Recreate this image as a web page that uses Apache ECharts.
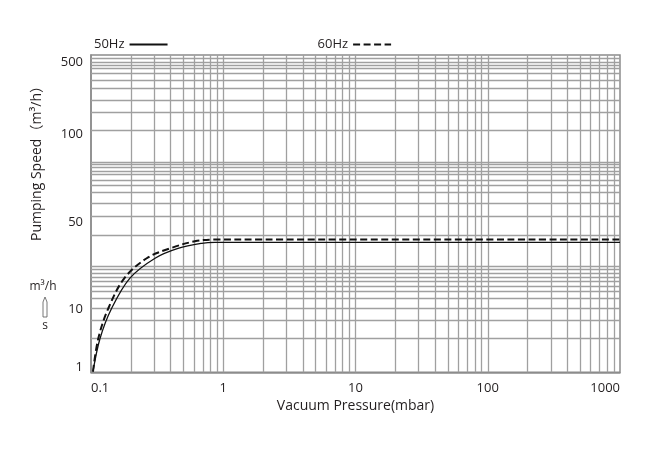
<!DOCTYPE html>
<html>
<head>
<meta charset="utf-8">
<title>Pumping Speed</title>
<script src="https://cdn.jsdelivr.net/npm/echarts@6/dist/echarts.min.js"></script>
<style>
  html, body { margin: 0; padding: 0; background: #fff; }
  #chart { width: 650px; height: 450px; }
</style>
</head>
<body>
<div id="chart"></div>
<script>
// x axis: vacuum pressure (mbar), log scale
const xTicks = [0.1, 1, 10, 100, 1000];
const xMultiples = [1, 2, 3, 4, 5, 6, 7, 8, 9];

// y axis of the reference is an irregular log paper of 3 "decades" (0..3);
// labels are printed at these positions
const yTickLabels = [1, 10, 50, 100, 500];
const yTickPos = [0.05, 0.598, 1.414, 2.253, 2.927];
// horizontal grid lines of the paper, same units
const yGridPos = [
    0.320, 0.492, 0.615, 0.698, 0.769, 0.813, 0.857, 0.904, 0.942, 0.974, 0.999,
    1.298, 1.481, 1.598, 1.700, 1.771, 1.825, 1.866, 1.903, 1.944, 1.969, 1.991,
    2.291, 2.464, 2.574, 2.685, 2.757, 2.827, 2.865, 2.896, 2.931, 2.969
];

// curves (pressure mbar, speed m3/h)
const pressure50 = [0.1035, 0.117, 0.143, 0.197, 0.305, 0.455, 0.688, 0.866, 2, 1000];
const speed50    = [0.83,   3.1,   10.1,  17.8,  25.8,  31.0,  34.1,  34.7,  34.7, 34.7];
const pressure60 = [0.1035, 0.1135, 0.135, 0.179, 0.264, 0.396, 0.61, 0.836, 2, 1000];
const speed60    = [0.83,   3.1,    10.1,  17.8,  25.8,  31.0,  35.4, 36.5,  36.5, 36.5];

const textColor = '#231f20';
const gridColor = '#a0a0a0';
const fontFamily = "'Open Sans', 'Noto Sans CJK SC', sans-serif";

// m3/h -> position on the paper, piecewise log between printed labels
function toPaper(v) {
    let i = 0;
    while (i < yTickLabels.length - 2 && v > yTickLabels[i + 1]) i++;
    const a = Math.log10(yTickLabels[i]);
    const b = Math.log10(yTickLabels[i + 1]);
    const t = (Math.log10(v) - a) / (b - a);
    return yTickPos[i] + t * (yTickPos[i + 1] - yTickPos[i]);
}

function toSeriesData(xs, ys) {
    return xs.map((x, i) => [x, toPaper(ys[i])]);
}

// vertical grid: 2..9 of each decade and the decades themselves
let xGrid = [];
xTicks.slice(0, -1).forEach((d) => {
    xMultiples.forEach((m) => {
        if (d * m > xTicks[0]) xGrid.push(+(d * m).toPrecision(3));
    });
});

const gridLines = xGrid.map((v) => ({xAxis: v}))
    .concat(yGridPos.map((v) => ({yAxis: v})));

const chart = echarts.init(document.getElementById('chart'));

const option = {
    animation: false,
    textStyle: {fontFamily: fontFamily, color: textColor},
    grid: {
        left: 91,
        right: 30,
        top: 55,
        bottom: 77.7,
        show: true,
        borderColor: '#8c8c8c',
        borderWidth: 1.5,
        containLabel: false
    },
    legend: {
        data: ['50Hz', '60Hz'],
        left: 89,
        top: 33,
        align: 'right',
        itemWidth: 38,
        itemHeight: 12,
        itemGap: 149,
        itemStyle: {opacity: 0},
        textStyle: {fontFamily: fontFamily, fontSize: 13, color: textColor}
    },
    xAxis: {
        type: 'log',
        logBase: 10,
        min: xTicks[0],
        max: xTicks[xTicks.length - 1],
        name: 'Vacuum Pressure(mbar)',
        nameLocation: 'middle',
        nameGap: 27,
        nameTextStyle: {fontFamily: fontFamily, fontSize: 14, color: textColor},
        axisLine: {show: true, lineStyle: {color: '#8c8c8c', width: 1.5}},
        axisTick: {show: false},
        splitLine: {show: false},
        axisLabel: {
            margin: 9,
            fontSize: 13,
            color: textColor,
            fontFamily: fontFamily,
            alignMinLabel: 'left',
            alignMaxLabel: 'right',
            formatter: (v) => String(+v.toPrecision(3))
        }
    },
    yAxis: {
        type: 'value',
        min: 0,
        max: 3,
        axisLine: {show: true, lineStyle: {color: '#8c8c8c', width: 1.5}},
        axisTick: {show: false},
        splitLine: {show: false},
        axisLabel: {
            customValues: yTickPos,
            margin: 8,
            fontSize: 13,
            color: textColor,
            fontFamily: fontFamily,
            formatter: (v) => {
                const i = yTickPos.findIndex((p) => Math.abs(p - v) < 1e-6);
                return i >= 0 ? String(yTickLabels[i]) : '';
            }
        }
    },
    series: [
        {
            type: 'line',
            data: [],
            silent: true,
            z: 1,
            markLine: {
                silent: true,
                symbol: ['none', 'none'],
                label: {show: false},
                lineStyle: {color: gridColor, width: 1.3, type: 'solid'},
                emphasis: {disabled: true},
                data: gridLines
            }
        },
        {
            name: '50Hz',
            type: 'line',
            z: 5,
            symbol: 'none',
            smooth: 0.35,
            lineStyle: {color: '#111', width: 1.3, type: 'solid'},
            itemStyle: {color: '#111'},
            data: toSeriesData(pressure50, speed50)
        },
        {
            name: '60Hz',
            type: 'line',
            z: 6,
            symbol: 'none',
            smooth: 0.35,
            lineStyle: {color: '#111', width: 2, type: [7, 3.5]},
            itemStyle: {color: '#111'},
            data: toSeriesData(pressure60, speed60)
        }
    ],
    graphic: [
        {
            type: 'text',
            x: 37,
            y: 160,
            rotation: Math.PI / 2,
            style: {
                text: 'Pumping Speed（m³/h）',
                fontFamily: fontFamily,
                fontSize: 14,
                fill: textColor,
                align: 'center',
                verticalAlign: 'middle'
            }
        },
        {
            type: 'text',
            x: 43,
            y: 287,
            style: {
                text: 'm³/h',
                fontFamily: fontFamily,
                fontSize: 12,
                fill: textColor,
                align: 'center',
                verticalAlign: 'middle'
            }
        },
        {
            type: 'polygon',
            shape: {points: [[43, 302], [45, 297], [47, 302], [47, 317], [43, 317]]},
            style: {fill: 'none', stroke: '#555', lineWidth: 0.8}
        },
        {
            type: 'text',
            x: 45,
            y: 326,
            style: {
                text: 's',
                fontFamily: fontFamily,
                fontSize: 12,
                fill: textColor,
                align: 'center',
                verticalAlign: 'middle'
            }
        }
    ]
};

chart.setOption(option);
</script>
</body>
</html>
